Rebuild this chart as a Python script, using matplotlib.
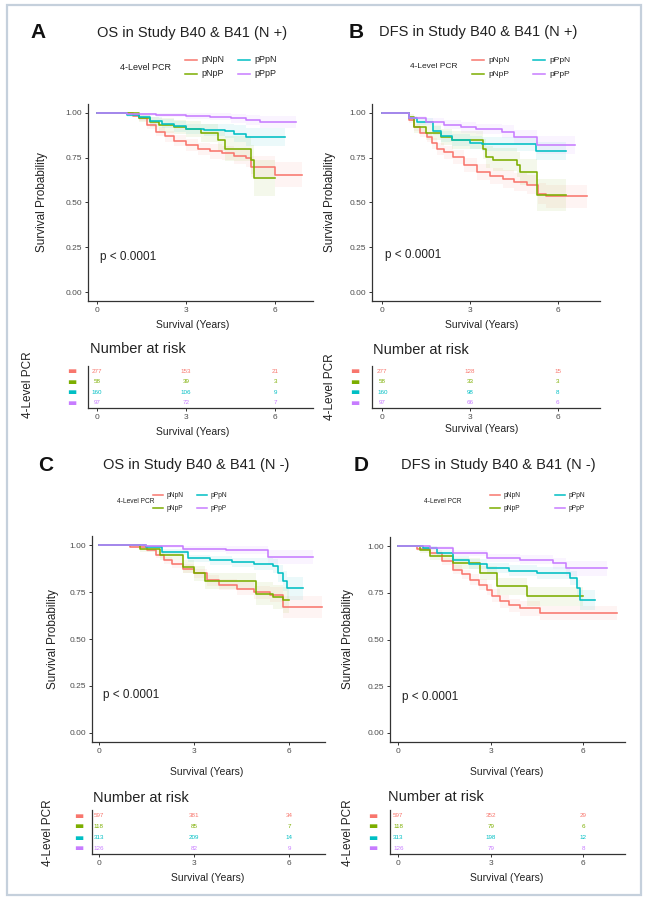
import numpy as np
import matplotlib
matplotlib.use("Agg")
import matplotlib.pyplot as plt
from matplotlib.lines import Line2D
from matplotlib.patches import Rectangle

plt.rcParams['font.family'] = ['Liberation Sans', 'DejaVu Sans']

W, H = 648, 900

# ---------------- data ----------------
groups = ["pNpN", "pNpP", "pPpN", "pPpP"]
colors = ["#F8766D", "#7CAE00", "#00BFC4", "#C77CFF"]
x_ticks = [0, 3, 6]
y_ticks = [0.0, 0.25, 0.5, 0.75, 1.0]
y_ticklabels = ["0.00", "0.25", "0.50", "0.75", "1.00"]
titles = ["OS in Study B40 & B41 (N +)", "DFS in Study B40 & B41 (N +)",
          "OS in Study B40 & B41 (N -)", "DFS in Study B40 & B41 (N -)"]
letters = ["A", "B", "C", "D"]
pvalues = ["p < 0.0001", "p < 0.0001", "p < 0.0001", "p < 0.0001"]

# Panel A: OS, N+
A_t_pNpN = [0, 1.2, 1.4, 1.7, 2.0, 2.3, 2.6, 3.0, 3.4, 3.8, 4.2, 4.6, 5.0, 5.2, 6.0, 6.9]
A_s_pNpN = [1.0, 0.985, 0.97, 0.93, 0.895, 0.87, 0.845, 0.82, 0.80, 0.785, 0.775, 0.76, 0.75, 0.70, 0.655, 0.655]
A_c_pNpN = [0, 0.01, 0.015, 0.02, 0.025, 0.03, 0.03, 0.035, 0.035, 0.04, 0.04, 0.045, 0.05, 0.06, 0.07, 0.07]
A_t_pNpP = [0, 1.4, 1.8, 2.1, 2.6, 3.0, 3.5, 4.08, 4.3, 5.2, 5.3, 6.0]
A_s_pNpP = [1.0, 0.97, 0.95, 0.93, 0.92, 0.91, 0.89, 0.85, 0.80, 0.74, 0.635, 0.635]
A_c_pNpP = [0, 0.02, 0.03, 0.04, 0.04, 0.045, 0.05, 0.06, 0.07, 0.08, 0.1, 0.1]
A_t_pPpN = [0, 1.0, 1.4, 1.8, 2.2, 2.6, 3.0, 3.6, 4.3, 4.6, 5.0, 6.33]
A_s_pPpN = [1.0, 0.99, 0.975, 0.955, 0.94, 0.925, 0.91, 0.905, 0.90, 0.885, 0.868, 0.868]
A_c_pPpN = [0, 0.01, 0.015, 0.02, 0.025, 0.03, 0.03, 0.035, 0.04, 0.045, 0.05, 0.05]
A_t_pPpP = [0, 1.0, 2.0, 3.0, 3.8, 4.5, 5.0, 5.5, 6.7]
A_s_pPpP = [1.0, 0.995, 0.99, 0.985, 0.98, 0.97, 0.96, 0.95, 0.95]
A_c_pPpP = [0, 0.01, 0.015, 0.02, 0.02, 0.025, 0.03, 0.035, 0.035]

# Panel B: DFS, N+
B_t_pNpN = [0, 0.9, 1.07, 1.3, 1.52, 1.7, 1.87, 2.1, 2.43, 2.8, 3.23, 3.7, 4.14, 4.5, 4.94, 5.34, 5.6, 7.0]
B_s_pNpN = [1.0, 0.96, 0.92, 0.89, 0.866, 0.83, 0.80, 0.78, 0.755, 0.71, 0.67, 0.65, 0.63, 0.615, 0.60, 0.55, 0.535, 0.535]
B_c_pNpN = [0, 0.015, 0.02, 0.025, 0.03, 0.03, 0.035, 0.035, 0.04, 0.04, 0.045, 0.045, 0.05, 0.05, 0.055, 0.06, 0.065, 0.065]
B_t_pNpP = [0, 0.9, 1.1, 1.5, 2.0, 2.4, 3.45, 3.55, 3.8, 4.6, 4.7, 5.28, 6.3]
B_s_pNpP = [1.0, 0.975, 0.92, 0.89, 0.866, 0.85, 0.80, 0.755, 0.74, 0.71, 0.67, 0.54, 0.54]
B_c_pNpP = [0, 0.02, 0.03, 0.04, 0.045, 0.05, 0.055, 0.06, 0.065, 0.07, 0.075, 0.09, 0.09]
B_t_pPpN = [0, 0.9, 1.2, 1.74, 2.0, 2.4, 3.0, 3.4, 5.25, 6.3]
B_s_pPpN = [1.0, 0.97, 0.95, 0.90, 0.87, 0.85, 0.835, 0.825, 0.79, 0.79]
B_c_pPpN = [0, 0.015, 0.02, 0.025, 0.03, 0.035, 0.035, 0.04, 0.05, 0.05]
B_t_pPpP = [0, 0.9, 1.5, 2.1, 2.7, 3.2, 4.1, 4.5, 5.3, 6.6]
B_s_pPpP = [1.0, 0.97, 0.95, 0.933, 0.92, 0.91, 0.895, 0.866, 0.82, 0.82]
B_c_pPpP = [0, 0.015, 0.02, 0.025, 0.03, 0.03, 0.035, 0.04, 0.05, 0.05]

# Panel C: OS, N-
C_t_pNpN = [0, 1.0, 1.52, 1.8, 2.05, 2.3, 2.67, 3.0, 3.4, 3.8, 4.35, 4.9, 5.4, 5.81, 7.02]
C_s_pNpN = [1.0, 0.99, 0.973, 0.95, 0.92, 0.90, 0.876, 0.85, 0.813, 0.79, 0.769, 0.75, 0.735, 0.671, 0.671]
C_c_pNpN = [0, 0.005, 0.01, 0.015, 0.02, 0.02, 0.025, 0.025, 0.03, 0.03, 0.035, 0.035, 0.04, 0.06, 0.06]
C_t_pNpP = [0, 1.3, 1.94, 2.67, 3.0, 3.35, 4.97, 5.5, 5.81, 6.0]
C_s_pNpP = [1.0, 0.98, 0.947, 0.885, 0.85, 0.81, 0.742, 0.725, 0.707, 0.707]
C_c_pNpP = [0, 0.015, 0.025, 0.035, 0.04, 0.045, 0.06, 0.065, 0.07, 0.07]
C_t_pPpN = [0, 1.5, 2.0, 2.8, 3.5, 4.2, 4.9, 5.5, 5.65, 5.81, 5.92, 6.44]
C_s_pPpN = [1.0, 0.99, 0.965, 0.93, 0.92, 0.91, 0.90, 0.89, 0.85, 0.81, 0.77, 0.77]
C_c_pPpN = [0, 0.01, 0.015, 0.02, 0.025, 0.025, 0.03, 0.035, 0.045, 0.055, 0.06, 0.06]
C_t_pPpP = [0, 1.5, 2.67, 4.0, 5.34, 6.75]
C_s_pPpP = [1.0, 0.995, 0.98, 0.975, 0.938, 0.938]
C_c_pPpP = [0, 0.01, 0.015, 0.02, 0.035, 0.035]

# Panel D: DFS, N-
D_t_pNpN = [0, 0.6, 1.03, 1.4, 1.78, 2.05, 2.32, 2.6, 2.86, 3.05, 3.3, 3.6, 3.95, 4.6, 7.08]
D_s_pNpN = [1.0, 0.985, 0.964, 0.92, 0.875, 0.85, 0.82, 0.795, 0.767, 0.735, 0.704, 0.685, 0.668, 0.642, 0.642]
D_c_pNpN = [0, 0.01, 0.015, 0.02, 0.025, 0.025, 0.03, 0.03, 0.03, 0.035, 0.035, 0.035, 0.04, 0.04, 0.04]
D_t_pNpP = [0, 0.7, 1.03, 1.78, 2.65, 3.19, 4.16, 6.0]
D_s_pNpP = [1.0, 0.98, 0.946, 0.91, 0.857, 0.785, 0.731, 0.731]
D_c_pNpP = [0, 0.015, 0.02, 0.03, 0.04, 0.045, 0.05, 0.05]
D_t_pPpN = [0, 0.8, 1.24, 1.78, 2.3, 2.86, 3.6, 4.49, 5.57, 5.78, 5.89, 6.38]
D_s_pPpN = [1.0, 0.99, 0.964, 0.928, 0.905, 0.883, 0.87, 0.857, 0.83, 0.776, 0.713, 0.713]
D_c_pPpN = [0, 0.01, 0.015, 0.02, 0.025, 0.025, 0.03, 0.03, 0.035, 0.045, 0.055, 0.055]
D_t_pPpP = [0, 1.03, 1.78, 2.86, 3.95, 5.0, 5.45, 6.76]
D_s_pPpP = [1.0, 0.991, 0.964, 0.937, 0.928, 0.91, 0.883, 0.883]
D_c_pPpP = [0, 0.01, 0.015, 0.02, 0.025, 0.03, 0.04, 0.04]

# numbers at risk at 0, 3, 6 years
A_risk_pNpN = [277, 153, 21]
A_risk_pNpP = [58, 39, 3]
A_risk_pPpN = [160, 106, 9]
A_risk_pPpP = [97, 72, 7]
B_risk_pNpN = [277, 128, 15]
B_risk_pNpP = [58, 33, 3]
B_risk_pPpN = [160, 98, 8]
B_risk_pPpP = [97, 66, 6]
C_risk_pNpN = [597, 381, 34]
C_risk_pNpP = [118, 85, 7]
C_risk_pPpN = [313, 209, 14]
C_risk_pPpP = [126, 82, 9]
D_risk_pNpN = [597, 352, 29]
D_risk_pNpP = [118, 79, 6]
D_risk_pPpN = [313, 198, 12]
D_risk_pPpP = [126, 79, 8]

# ---------------- layout helpers ----------------
def rect(l, t, r, b):
    return [l / W, 1 - b / H, (r - l) / W, (b - t) / H]

def fx(x):
    return x / W

def fy(y):
    return 1 - y / H

fig = plt.figure(figsize=(W / 100, H / 100), dpi=100)
fig.patch.set_facecolor("white")

# outer frame
fig.add_artist(Rectangle((fx(7), fy(895)), (641 - 7) / W, (895 - 5) / H,
                         transform=fig.transFigure, fill=False,
                         edgecolor="#c5d0dc", linewidth=1.6))

TXT = "#222222"
TICK = "#4d4d4d"

panels = [
    dict(curves=[(A_t_pNpN, A_s_pNpN, A_c_pNpN), (A_t_pNpP, A_s_pNpP, A_c_pNpP),
                 (A_t_pPpN, A_s_pPpN, A_c_pPpN), (A_t_pPpP, A_s_pPpP, A_c_pPpP)],
         risk=[A_risk_pNpN, A_risk_pNpP, A_risk_pPpN, A_risk_pPpP],
         main=(88, 104, 313, 301), table=(88, 366, 313, 408), xlim=(-0.3, 7.27),
         letter=(38, 32), title=(192, 33), leg=(146, 60, 74, 185, 238, 6.5),
         ylab=(42, 202), p=(100, 257), xlab=(193, 325), nar=(90, 349),
         rylab=(28, 385), mark=72, rxlab=(193, 432)),
    dict(curves=[(B_t_pNpN, B_s_pNpN, B_c_pNpN), (B_t_pNpP, B_s_pNpP, B_c_pNpP),
                 (B_t_pPpN, B_s_pPpN, B_c_pPpN), (B_t_pPpP, B_s_pPpP, B_c_pPpP)],
         risk=[B_risk_pNpN, B_risk_pNpP, B_risk_pPpN, B_risk_pPpP],
         main=(372, 104, 600, 301), table=(372, 366, 600, 408), xlim=(-0.35, 7.45),
         letter=(356, 32), title=(478, 32), leg=(434, 60, 74, 472, 533, 6.0),
         ylab=(330, 202), p=(385, 255), xlab=(482, 325), nar=(373, 350),
         rylab=(330, 387), mark=355, rxlab=(482, 429)),
    dict(curves=[(C_t_pNpN, C_s_pNpN, C_c_pNpN), (C_t_pNpP, C_s_pNpP, C_c_pNpP),
                 (C_t_pPpN, C_s_pPpN, C_c_pPpN), (C_t_pPpP, C_s_pPpP, C_c_pPpP)],
         risk=[C_risk_pNpN, C_risk_pNpP, C_risk_pPpN, C_risk_pPpP],
         main=(92, 536, 325, 742), table=(92, 810, 325, 854), xlim=(-0.21, 7.13),
         letter=(46, 465), title=(196, 465), leg=(136, 495, 508, 153, 197, 4.8),
         ylab=(53, 639), p=(103, 695), xlab=(207, 772), nar=(93, 798),
         rylab=(48, 833), mark=79, rxlab=(208, 878)),
    dict(curves=[(D_t_pNpN, D_s_pNpN, D_c_pNpN), (D_t_pNpP, D_s_pNpP, D_c_pNpP),
                 (D_t_pPpN, D_s_pPpN, D_c_pPpN), (D_t_pPpP, D_s_pPpP, D_c_pPpP)],
         risk=[D_risk_pNpN, D_risk_pNpP, D_risk_pPpN, D_risk_pPpP],
         main=(390, 537, 625, 742), table=(390, 810, 625, 854), xlim=(-0.27, 7.35),
         letter=(361, 465), title=(498, 465), leg=(443, 495, 508, 490, 555, 4.8),
         ylab=(348, 639), p=(402, 697), xlab=(507, 772), nar=(388, 797),
         rylab=(348, 833), mark=373, rxlab=(507, 878)),
]

def style_axis(ax):
    for side in ("top", "right"):
        ax.spines[side].set_visible(False)
    for side in ("left", "bottom"):
        ax.spines[side].set_color("#333333")
        ax.spines[side].set_linewidth(0.9)
    ax.tick_params(colors="#333333", labelcolor=TICK, labelsize=6, length=2.5, width=0.7, pad=1.5)
    ax.set_facecolor("white")

for i, P in enumerate(panels):
    ax = fig.add_axes(rect(*P["main"]))
    style_axis(ax)
    for (t, s, c), col in zip(P["curves"], colors):
        t = np.asarray(t, float)
        s = np.asarray(s, float)
        c = np.asarray(c, float)
        ax.fill_between(t, s - c, np.minimum(s + c, 1.0), step="post", color=col, alpha=0.08, lw=0)
        ax.step(t, s, where="post", color=col, lw=1.15)
    ax.set_xlim(*P["xlim"])
    ax.set_ylim(-0.05, 1.05)
    ax.set_xticks(x_ticks)
    ax.set_yticks(y_ticks)
    ax.set_yticklabels(y_ticklabels)

    # risk table
    tb = fig.add_axes(rect(*P["table"]))
    style_axis(tb)
    tb.set_xlim(*P["xlim"])
    tb.set_ylim(0.5, 4.5)
    tb.set_xticks(x_ticks)
    tb.set_yticks([])
    for k, (vals, col) in enumerate(zip(P["risk"], colors)):
        row = 4 - k
        for xv, v in zip(x_ticks, vals):
            tb.text(xv, row, str(v), color=col, fontsize=4.5, ha="center", va="center")
        fig.text(fx(P["mark"]), fy(P["table"][1] + (P["table"][3] - P["table"][1]) * (k + 0.5) / 4),
                 "\u25ac", color=col, fontsize=7, ha="center", va="center", family="DejaVu Sans")

    # texts
    fig.text(fx(P["letter"][0]), fy(P["letter"][1]), letters[i], fontsize=15, fontweight="bold",
             ha="center", va="center", color="#111111")
    fig.text(fx(P["title"][0]), fy(P["title"][1]), titles[i], fontsize=10.5, ha="center", va="center",
             color=TXT)
    fig.text(fx(P["ylab"][0]), fy(P["ylab"][1]), "Survival Probability", rotation=90, fontsize=8.5,
             ha="center", va="center", color=TXT)
    fig.text(fx(P["p"][0]), fy(P["p"][1]), pvalues[i], fontsize=8.5, ha="left", va="center", color=TXT)
    fig.text(fx(P["xlab"][0]), fy(P["xlab"][1]), "Survival (Years)", fontsize=7.5, ha="center",
             va="center", color=TXT)
    fig.text(fx(P["nar"][0]), fy(P["nar"][1]), "Number at risk", fontsize=10.5, ha="left",
             va="center", color=TXT)
    fig.text(fx(P["rylab"][0]), fy(P["rylab"][1]), "4-Level PCR", rotation=90, fontsize=8.5,
             ha="center", va="center", color=TXT)
    fig.text(fx(P["rxlab"][0]), fy(P["rxlab"][1]), "Survival (Years)", fontsize=7.5, ha="center",
             va="center", color=TXT)

    # legend
    lcx, r1, r2, c1, c2, lfs = P["leg"]
    seg = 12 if lfs > 5 else 10
    fig.text(fx(lcx), fy((r1 + r2) / 2), "4-Level PCR", fontsize=lfs, ha="center", va="center", color=TXT)
    for k, (g, col) in enumerate(zip(groups, colors)):
        cx = c1 if k < 2 else c2
        ry = r1 if k % 2 == 0 else r2
        fig.add_artist(Line2D([fx(cx), fx(cx + seg)], [fy(ry), fy(ry)], color=col, lw=1.1,
                              transform=fig.transFigure))
        fig.text(fx(cx + seg + 4), fy(ry), g, fontsize=lfs, ha="left", va="center", color=TXT)

fig.savefig("out.png", dpi=100, facecolor="white")
